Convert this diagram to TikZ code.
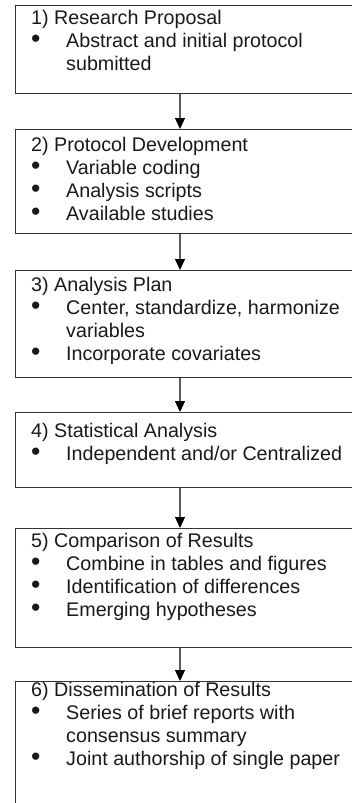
\documentclass[tikz,border=0pt]{standalone}
\usepackage{fontspec}
\setmainfont{Liberation Sans}
\usepackage{graphicx}
\usepackage{tikz}
\usetikzlibrary{arrows.meta,positioning,calc}

\newcommand{\stagefont}{\fontsize{19.7}{23}\selectfont}
\newcommand{\stagebul}{\makebox[35pt][l]{\raisebox{-0.6pt}{\scalebox{1.35}{\textbullet}}}}
\newcommand{\stageindent}{\hspace*{35pt}}

\begin{document}
\begin{tikzpicture}[x=1pt, y=1pt,
  stage/.style={draw=black!80, line width=1.2pt, minimum width=400pt, anchor=north west, inner sep=0pt},
  stagetext/.style={anchor=base west, align=left, inner sep=0pt, text=black!90, font=\stagefont},
  flow/.style={draw=black!65, line width=1.1pt, -{Triangle[width=10pt,length=11pt,color=black]}},
]
\useasboundingbox (0,0) rectangle (352,-803);
\clip (0,0) rectangle (352,-803);
\coordinate (axis) at (180,0);
% Stage boxes (run past the right and bottom edge)
\node[stage, minimum height=88pt] (b1) at (15,-5) {};
\node[stage, minimum height=104pt] (b2) at (15,-129) {};
\node[stage, minimum height=107pt] (b3) at (15,-270) {};
\node[stage, minimum height=75pt] (b4) at (15,-412) {};
\node[stage, minimum height=119pt] (b5) at (15,-528) {};
\node[stage, minimum height=160pt] (b6) at (15,-681) {};
% Stage texts (base = last line)
\node[stagetext] (t1) at (31,-70) {1) Research Proposal\\
  \stagebul Abstract and initial protocol\\
  \stageindent submitted};
\node[stagetext] (t2) at (31,-220) {2) Protocol Development\\
  \stagebul Variable coding\\
  \stagebul Analysis scripts\\
  \stagebul Available studies};
\node[stagetext] (t3) at (31,-360) {3) Analysis Plan\\
  \stagebul Center, standardize, harmonize\\
  \stageindent variables\\
  \stagebul Incorporate covariates};
\node[stagetext] (t4) at (31,-460) {4) Statistical Analysis\\
  \stagebul Independent and/or Centralized};
\node[stagetext] (t5) at (31,-616) {5) Comparison of Results\\
  \stagebul Combine in tables and figures\\
  \stagebul Identification of differences\\
  \stagebul Emerging hypotheses};
\node[stagetext] (t6) at (31,-765) {6) Dissemination of Results\\
  \stagebul Series of brief reports with\\
  \stageindent consensus summary\\
  \stagebul Joint authorship of single paper};
% Arrows between stages
\draw[flow] (b1.south -| axis) -- (b2.north -| axis);
\draw[flow] (b2.south -| axis) -- (b3.north -| axis);
\draw[flow] (b3.south -| axis) -- (b4.north -| axis);
\draw[flow] (b4.south -| axis) -- (b5.north -| axis);
\draw[flow] (b5.south -| axis) -- (b6.north -| axis);
\end{tikzpicture}
\end{document}
